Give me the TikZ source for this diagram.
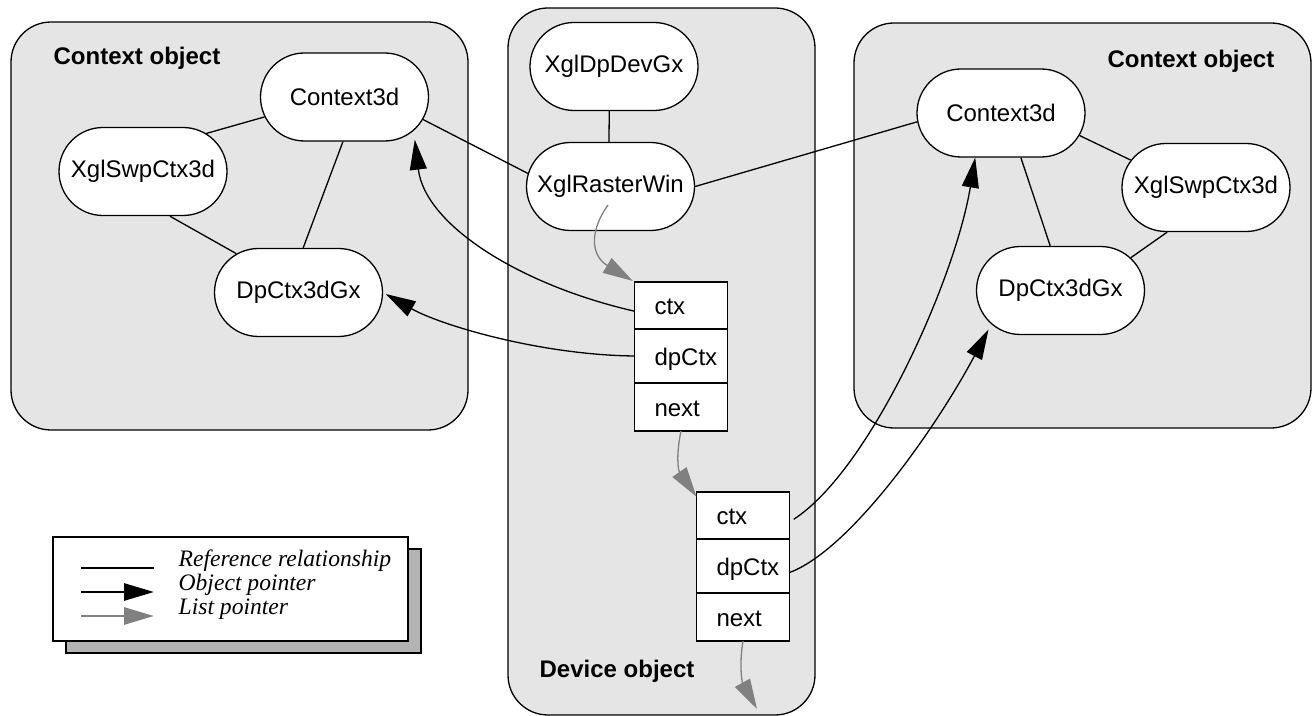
\documentclass[tikz,border=0pt]{standalone}
\usepackage{fontspec}
\setmainfont{Liberation Sans}
\newfontfamily\legendfont{Liberation Serif}
\usetikzlibrary{shapes.misc,arrows.meta}
\definecolor{panel}{HTML}{E5E5E5}
\definecolor{shadowgray}{HTML}{B3B3B3}
\definecolor{listgray}{HTML}{808080}

\begin{document}
\begin{tikzpicture}[x=0.5pt,y=-0.5pt,line width=0.65pt,
  panelbox/.style={draw,fill=panel,rounded corners=20pt},
  objnode/.style={rounded rectangle,draw,fill=white,minimum width=88pt,
    minimum height=44pt,inner sep=2pt,font=\fontsize{12}{14}\selectfont},
  fieldbox/.style={rectangle,draw,fill=white,anchor=north,inner xsep=10pt,
    inner ysep=0pt,outer sep=0pt,text width=26.5pt,align=left,text height=11pt,
    text depth=1.5pt,font=\fontsize{12}{14}\selectfont},
  grouplabel/.style={font=\fontsize{12}{14}\selectfont\bfseries,inner sep=0pt},
  legendtext/.style={font=\legendfont\itshape\fontsize{11.8}{14}\selectfont,
    inner sep=0pt,anchor=base west},
  refline/.style={black},
  objptr/.style={-{Triangle[length=15pt,width=8.5pt]},black},
  listptr/.style={-{Triangle[length=15pt,width=8.5pt]},listgray},
]
\useasboundingbox (0,0) rectangle (1313,716);

% object groups
\draw[panelbox] (11,22) rectangle (468,430);
\draw[panelbox] (508,8) rectangle (815,715);
\draw[panelbox] (854,23) rectangle (1311,428);

\node[grouplabel,anchor=base west] (lblL) at (53,65) {Context object};
\node[grouplabel,anchor=base west] (lblR) at (1107,68) {Context object};
\node[grouplabel,anchor=base west] (lblD) at (539,677) {Device object};

% left context
\node[objnode] (LC) at (344.5,97) {Context3d};
\node[objnode] (LS) at (143,171.5) {XglSwpCtx3d};
\node[objnode] (LD) at (298.5,292.5) {DpCtx3dGx};

% device
\node[objnode] (MD) at (614,66.5) {XglDpDevGx};
\node[objnode] (MR) at (610.5,186.5) {XglRasterWin};

% right context
\node[objnode] (RC) at (1001,113) {Context3d};
\node[objnode] (RS) at (1206,187.5) {XglSwpCtx3d};
\node[objnode] (RD) at (1060.5,290.5) {DpCtx3dGx};

% list entries
\node[fieldbox,minimum height=23.5pt] (ctxA) at (681,282) {ctx};
\node[fieldbox,minimum height=27pt] (dpA) at (ctxA.south) {dpCtx};
\node[fieldbox,minimum height=24pt] (nextA) at (dpA.south) {next};

\node[fieldbox,minimum height=23.5pt] (ctxB) at (743,492) {ctx};
\node[fieldbox,minimum height=27pt] (dpB) at (ctxB.south) {dpCtx};
\node[fieldbox,minimum height=24pt] (nextB) at (dpB.south) {next};

% reference relationships
\draw[refline] (LC.-166.5) -- (LS.31.5);
\draw[refline] (LS.-59) -- (LD.148.3);
\draw[refline] (LC.-92) -- (LD.84);
\draw[refline] (LC.-16) -- (MR.171.3);
\draw[refline] (MD.-96.5) -- (MR.92);
\draw[refline] (MR.0) -- (RC.186);
\draw[refline] (RC.-16.3) -- (RS.160);
\draw[refline] (RC.-66.6) -- (RD.103.6);
\draw[refline] (RS.-131.2) -- (RD.25.8);

% list pointers
\coordinate (rasPtr) at (608,205);
\coordinate (listEnd) at (757,709);
\draw[listptr,shorten >=1pt] (rasPtr) .. controls (590,230) and (590,255) .. (ctxA.north west);
\draw[listptr] (nextA.south) .. controls (676,455) and (678,470) .. (ctxB.158);
\draw[listptr] (nextB.south) .. controls (739,665) and (742,682) .. (listEnd);

% object pointers
\draw[objptr,shorten >=4.5pt] (ctxA.187.4) .. controls (520,285) and (425,225) .. (LC.-26);
\draw[objptr,shorten >=1.5pt] (dpA.west) .. controls (540,355) and (440,325) .. (LD.0);
\draw[objptr,shorten <=2.5pt] (ctxB.-8) .. controls (870,470) and (955,280) .. (RC.-120);
\draw[objptr,shorten >=3pt] (dpB.-8.7) .. controls (850,550) and (935,430) .. (RD.-154);

% legend
\draw[fill=shadowgray] (66,549) rectangle (421,653);
\draw[fill=white] (53,537) rectangle (408,641);
\coordinate (k1a) at (81,568); \coordinate (k1b) at (154,568);
\coordinate (k2a) at (81,592); \coordinate (k2b) at (154,592);
\coordinate (k3a) at (81,616); \coordinate (k3b) at (154,616);
\draw[refline,line width=0.8pt] (k1a) -- (k1b);
\draw[objptr,line width=1.4pt] (k2a) -- (k2b);
\draw[listptr,line width=1.4pt] (k3a) -- (k3b);
\node[legendtext] (t1) at (178,567) {Reference relationship};
\node[legendtext] (t2) at (178,591) {Object pointer};
\node[legendtext] (t3) at (178,615) {List pointer};
\end{tikzpicture}
\end{document}
